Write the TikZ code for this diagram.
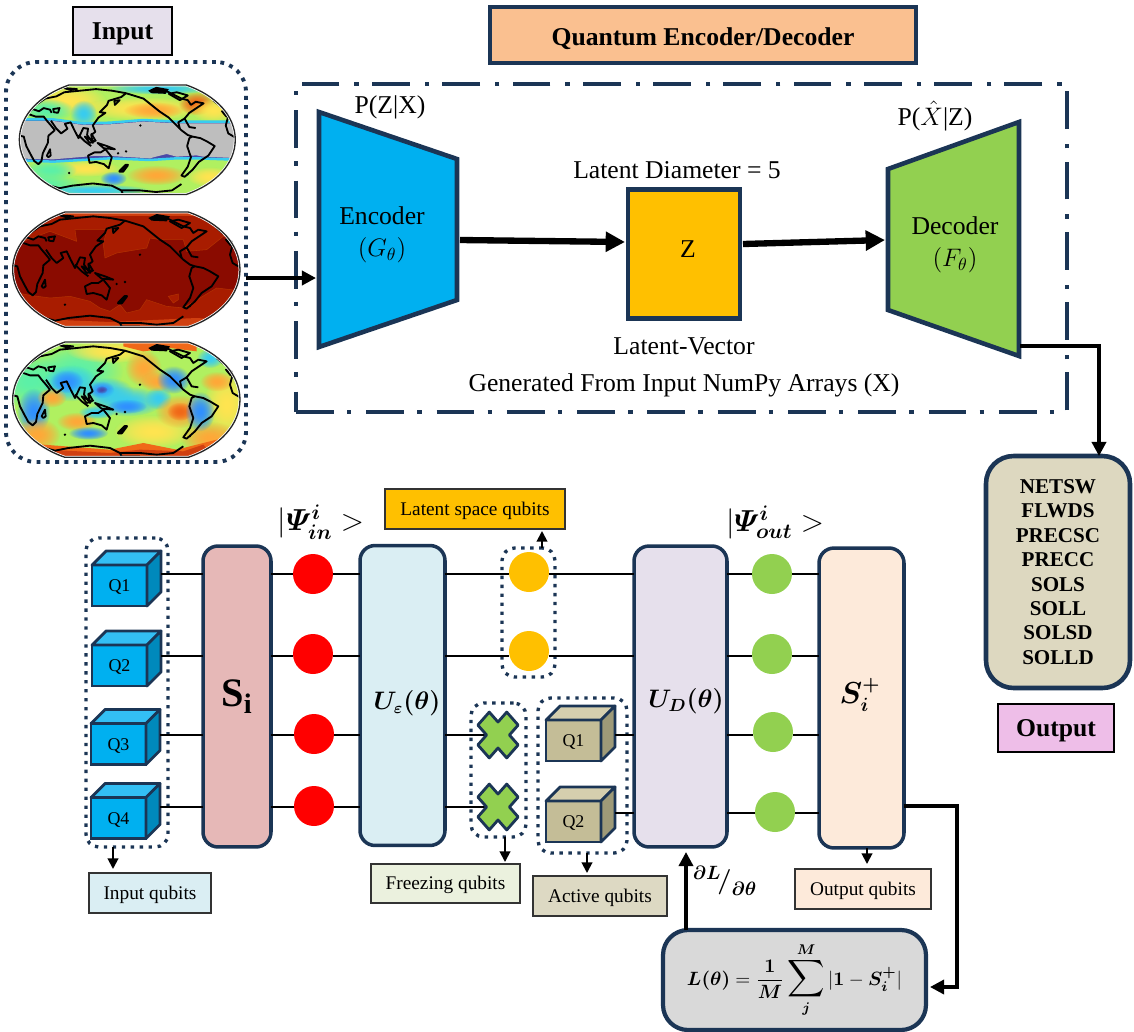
\documentclass[tikz,border=0pt]{standalone}
\usepackage{amsmath}
\usepackage{bm}
\usepackage{fontspec}
\setmainfont{Liberation Serif}
\usepackage{xcolor}
\usetikzlibrary{arrows.meta,calc,fadings}
\definecolor{mnavy}{HTML}{1B3555}
\definecolor{mcube}{HTML}{00B0F0}
\definecolor{mcubet}{HTML}{33BFF4}
\definecolor{mcubes}{HTML}{0089BC}
\definecolor{mtan}{HTML}{C4BD97}
\definecolor{mtant}{HTML}{D5CFAE}
\definecolor{mtans}{HTML}{9E9A78}
\definecolor{mgreen}{HTML}{92D050}
\definecolor{mgold}{HTML}{FFC000}
\definecolor{mlilac}{HTML}{E6E0EC}
\definecolor{cblue}{HTML}{3090FF}
\definecolor{ccyan}{HTML}{38CCF0}
\definecolor{cgreen}{HTML}{5CF0A8}
\definecolor{clime}{HTML}{B0F060}
\definecolor{cyell}{HTML}{FFE450}
\definecolor{corange}{HTML}{FFA838}
\definecolor{credor}{HTML}{F06818}
\definecolor{cred}{HTML}{D04010}
\definecolor{cindigo}{HTML}{4A48A8}
\definecolor{cdark}{HTML}{8A0B00}
\definecolor{cmid}{HTML}{A81C00}
\tikzfading[name=softblob, inner color=transparent!0, outer color=transparent!100]
\tikzstyle{big}=[font=\fontsize{14.6}{17}\selectfont]
\tikzstyle{small}=[font=\fontsize{11}{13}\selectfont]
\tikzstyle{bigbold}=[font=\fontsize{14.6}{17}\selectfont\bfseries]
\tikzstyle{tagbig}=[bigbold, rectangle, draw=black, line width=1.4pt, outer sep=0pt, text height=10pt, text depth=0pt]
\tikzstyle{tag}=[small, rectangle, draw=black!80, line width=0.6pt, outer sep=0pt, text height=7.2pt, text depth=0pt]
\tikzstyle{blk}=[rectangle, draw=mnavy, line width=2.6pt, outer sep=0pt]
\tikzstyle{gate}=[rectangle, draw=mnavy, line width=2pt, rounded corners=0.3cm, outer sep=0pt]
\tikzstyle{group}=[rectangle, draw=mnavy, line width=1.9pt, dash pattern=on 1.9pt off 3.2pt, rounded corners=0.25cm, outer sep=0pt]
\tikzstyle{wire}=[line width=1.4pt, black]
\tikzstyle{thin arrow}=[line width=1.1pt, black, -{Triangle[length=6pt,width=6pt]}]
\tikzstyle{flow}=[line width=1.9pt, black, -{Triangle[length=8pt,width=8pt]}]
\tikzstyle{fat}=[line width=3.6pt, black, -{Triangle[length=11pt,width=11pt]}]
\tikzstyle{dotnode}=[circle, minimum size=0.8cm, inner sep=0pt, outer sep=0pt]
\tikzstyle{front}=[rectangle, draw=mnavy, line width=1.6pt, minimum width=1.1cm, minimum height=0.82cm, inner sep=0pt, outer sep=0pt, font=\fontsize{10.2}{12}\selectfont, text height=7pt, text depth=0pt]
\tikzstyle{cubeline}=[draw=mnavy, line width=1.6pt, line join=round]
\tikzstyle{coast}=[black, line width=1.05pt, line join=round]
\tikzstyle{xmark}=[draw=mnavy, fill=mgreen, line width=1.6pt, line join=round]
\newcommand{\qcube}[6]{
    \node (#1) [front, fill=#3] at #2 {#6};
    \draw[cubeline, fill=#4] (#1.north west) -- ++(14,-14) -- ++(55,0) -- (#1.north east) -- cycle;
    \draw[cubeline, fill=#5] (#1.north east) -- ++(14,-14) -- ++(0,41) -- (#1.south east) -- cycle;
    \coordinate (#1s) at ([xshift=0.28cm]#1.east);
}
\newcommand{\xcross}[1]{
    \draw[xmark, shift={#1}, xscale=.95, yscale=1.08, rotate=45] (-8.5,-21.5) -- (8.5,-21.5) -- (8.5,-8.5) -- (21.5,-8.5) -- (21.5,8.5) -- (8.5,8.5) -- (8.5,21.5) -- (-8.5,21.5) -- (-8.5,8.5) -- (-21.5,8.5) -- (-21.5,-8.5) -- (-8.5,-8.5) -- cycle;
}
\newcommand{\mapoval}{(165,12) -- (535,12) .. controls (630,45) and (690,110) .. (690,185) .. controls (690,260) and (630,325) .. (535,358) -- (165,358) .. controls (70,325) and (8,260) .. (8,185) .. controls (8,110) and (70,45) .. (165,12) -- cycle}
\newcommand{\mapedge}{
    \draw[white, line width=1.6pt] \mapoval;
    \draw[black!85, line width=0.75pt] \mapoval;
}
\newcommand{\blob}[5]{
    \fill[#5, path fading=softblob, fit fading=true] (#1,#2) ellipse [x radius=#3, y radius=#4];
    \fill[#5, path fading=softblob, fit fading=true] (#1,#2) ellipse [x radius=#3, y radius=#4];
}
\newcommand{\coastlines}{
    \draw[coast] (8,172) -- (22,175) -- (30,205) -- (42,228) -- (55,252) -- (68,262) -- (78,252) -- (82,228) -- (98,195) -- (100,172) -- (120,155) -- (108,140) -- (95,125) -- (85,112) -- (60,112) -- (40,105);
    \draw[coast] (35,100) -- (50,88) -- (70,95) -- (85,85) -- (105,90) -- (110,100);
    \draw[coast] (115,88) -- (135,85) -- (130,100) -- (117,98) -- cycle;
    \draw[coast] (60,75) -- (90,55) -- (125,48) -- (150,35) -- (200,30) -- (250,25) -- (300,30) -- (345,38);
    \draw[coast] (108,125) -- (125,150) -- (140,165) -- (160,150) -- (152,135) -- (170,130) -- (182,155) -- (195,180) -- (210,148) -- (225,150) -- (222,170) -- (240,195) -- (235,170) -- (248,160) -- (240,140) -- (258,115) -- (280,100) -- (262,98) -- (285,75) -- (290,62) -- (330,50) -- (345,38);
    \draw[coast] (310,75) -- (325,60) -- (308,62) -- cycle;
    \draw[coast] (345,38) -- (400,55) -- (425,75) -- (450,95) -- (480,115) -- (505,140) -- (520,155) -- (540,170) -- (555,175) -- (580,180) -- (600,190) -- (625,205) -- (605,235) -- (575,255) -- (555,280) -- (530,302) -- (520,298) -- (540,270) -- (550,240) -- (538,205) -- (545,180) -- (555,175);
    \draw[coast] (515,150) -- (510,130) -- (530,118) -- (545,145) -- (565,148);
    \draw[coast] (530,118) -- (545,100) -- (560,90) -- (590,70) -- (565,65) -- (550,75) -- (540,60) -- (520,55) -- (490,40) -- (470,30);
    \fill[black] (415,30) -- (440,18) -- (480,25) -- (470,40) -- (425,38) -- cycle;
    \draw[coast] (480,40) -- (505,35) -- (540,45) -- (515,60) -- cycle;
    \draw[coast] (620,60) -- (650,85) -- (668,110) -- (660,140) -- (668,165) -- (690,178);
    \draw[coast] (648,95) -- (665,100) -- (662,112) -- cycle;
    \draw[coast] (105,330) -- (135,338) -- (175,330) -- (240,323) -- (300,330) -- (330,345) -- (390,345) -- (440,350) -- (490,345) -- (520,325);
    \draw[coast] (330,345) -- (335,356) -- (390,356);
    \draw[coast] (225,235) -- (245,225) -- (265,225) -- (280,215) -- (300,240) -- (290,275) -- (275,262) -- (250,255) -- (230,258) -- cycle;
    \draw[coast, line width=1.5pt] (325,285) -- (345,265) -- (350,265) -- (335,285) -- cycle;
    \draw[coast] (95,235) -- (105,215) -- (107,235) -- (100,240) -- cycle;
    \draw[coast] (195,170) -- (215,190) -- (235,205);
    \draw[coast] (215,175) -- (245,190) -- (230,195) -- cycle;
    \draw[coast] (235,165) -- (250,190);
    \draw[coast] (255,195) -- (285,205) -- (310,215) -- (275,212) -- cycle;
    \draw[coast] (150,22) -- (190,25) -- (170,28) -- cycle;
    \fill[black] (165,290) circle (4) (320,228) circle (4) (345,222) circle (4) (390,140) circle (4) (540,295) circle (3);
}
\begin{document}
\begin{tikzpicture}[x=0.02cm,y=-0.02cm]
    \useasboundingbox (0,0) rectangle (1134,1032);

    % input maps
    \node (input) [tagbig, fill=mlilac, minimum width=1.98cm, minimum height=0.96cm] at (122.5,31) {Input};
    \node (mapsgroup) [group, line width=2.2pt, dash pattern=on 2.2pt off 3.1pt, rounded corners=0.6cm, minimum width=4.8cm, minimum height=8cm] at (126,262) {};

    \begin{scope}[shift={(10,80)},scale=0.3333]
    \begin{scope}
    \path[clip, shift={(20.4,3.5)}, scale=.95] \mapoval;
    \fill[clime] (0,0) rectangle (705,366);
    \blob{170}{60}{120}{45}{cyell}
    \blob{400}{85}{190}{35}{cyell}
    \blob{430}{90}{90}{25}{corange}
    \blob{560}{70}{55}{35}{credor}
    \blob{220}{100}{40}{40}{ccyan}
    \blob{110}{90}{80}{35}{cgreen}
    \blob{610}{90}{70}{35}{cyell}
    \blob{450}{25}{160}{18}{ccyan}
    \blob{230}{265}{100}{25}{cyell}
    \blob{440}{285}{90}{30}{corange}
    \blob{310}{295}{40}{22}{cblue}
    \blob{120}{270}{80}{30}{cgreen}
    \blob{90}{310}{130}{30}{cgreen}
    \blob{250}{330}{170}{18}{ccyan}
    \blob{600}{290}{70}{30}{cyell}
    \draw[draw=ccyan, line width=1.4pt, fill=cindigo] (0,118) -- (130,118) -- (220,130) -- (300,128) -- (400,120) -- (500,125) -- (705,125) -- (705,240) -- (560,235) -- (500,235) -- (420,240) -- (300,235) -- (130,245) -- (0,240) -- cycle;
    \fill[fill={rgb,255:red,190;green,190;blue,190}] (0,123) -- (130,123) -- (220,135) -- (300,133) -- (400,125) -- (500,130) -- (705,130) -- (705,235) -- (650,233) -- (580,230) -- (560,226) -- (500,230) -- (470,222) -- (430,232) -- (420,235) -- (300,228) -- (250,228) -- (130,238) -- (0,235) -- cycle;
    \end{scope}
    \begin{scope}[shift={(20.4,3.5)},scale=.95]
    \coastlines
    \mapedge
    \end{scope}
    \end{scope}

    \begin{scope}[shift={(10,208)},scale=0.3333]
    \begin{scope}
    \path[clip] \mapoval;
    \fill[cdark] (0,0) rectangle (705,366);
    \fill[cmid, draw=orange!55!red!70!black, line width=.3pt] (0,0) -- (705,0) -- (705,85) -- (640,85) -- (590,125) -- (530,130) -- (520,95) -- (450,95) -- (420,90) -- (410,120) -- (320,135) -- (285,150) -- (280,110) -- (290,65) -- (195,65) -- (200,100) -- (120,70) -- (40,100) -- (0,120) -- cycle;
    \fill[cmid, draw=orange!55!red!70!black, line width=.3pt] (0,250) -- (60,262) -- (120,270) -- (180,265) -- (240,280) -- (270,300) -- (300,310) -- (330,290) -- (350,315) -- (390,305) -- (410,275) -- (470,295) -- (520,300) -- (620,240) -- (705,250) -- (705,366) -- (0,366) -- cycle;
    \fill[cmid, draw=orange!55!red!70!black, line width=.3pt] (475,265) -- (505,258) -- (505,275) -- (490,285) -- cycle;
    \fill[cred] (0,0) rectangle (705,24);
    \fill[cred] (130,335) -- (300,342) -- (560,330) -- (705,340) -- (705,366) -- (0,366) -- cycle;
    \end{scope}
    \coastlines
    \mapedge
    \end{scope}

    \begin{scope}[shift={(10,338)},scale=0.3333]
    \begin{scope}
    \path[clip] \mapoval;
    \fill[clime] (0,0) rectangle (705,366);
    \blob{60}{130}{120}{80}{cgreen}
    \blob{200}{100}{140}{80}{cgreen}
    \blob{300}{40}{130}{35}{cyell}
    \blob{430}{280}{120}{50}{cyell}
    \blob{650}{200}{70}{100}{cyell}
    \blob{600}{300}{90}{50}{corange}
    \blob{180}{135}{85}{55}{ccyan}
    \blob{170}{130}{50}{35}{cblue}
    \blob{70}{220}{50}{70}{cblue}
    \blob{125}{178}{45}{30}{corange}
    \blob{290}{160}{80}{42}{ccyan}
    \blob{275}{155}{38}{26}{cblue}
    \blob{275}{155}{18}{12}{cindigo}
    \blob{350}{190}{110}{45}{ccyan}
    \blob{350}{205}{60}{22}{cblue}
    \blob{445}{180}{40}{35}{ccyan}
    \blob{400}{90}{55}{55}{corange}
    \blob{440}{130}{50}{30}{corange}
    \blob{510}{220}{75}{50}{corange}
    \blob{510}{220}{40}{28}{credor}
    \blob{570}{220}{45}{60}{cblue}
    \blob{490}{125}{50}{42}{cblue}
    \blob{600}{60}{40}{30}{ccyan}
    \blob{620}{130}{50}{30}{corange}
    \blob{200}{250}{60}{28}{corange}
    \blob{235}{285}{60}{20}{cblue}
    \blob{260}{222}{55}{20}{ccyan}
    \blob{80}{290}{70}{50}{corange}
    \fill[credor] (340,0) -- (560,0) -- (560,40) -- (480,30) -- (400,40) -- (340,25) -- cycle;
    \fill[credor] (0,366) -- (0,300) -- (100,320) -- (300,335) -- (400,315) -- (500,335) -- (640,300) -- (705,280) -- (705,366) -- cycle;
    \fill[cred] (100,366) -- (110,335) -- (300,345) -- (390,335) -- (520,340) -- (580,320) -- (620,366) -- cycle;
    \end{scope}
    \coastlines
    \mapedge
    \end{scope}

    % encoder and decoder
    \node (title) [blk, bigbold, fill={rgb,255:red,250;green,192;blue,144}, minimum width=8.52cm, minimum height=1.12cm, text height=11.4pt, text depth=0pt] at (703,35) {Quantum Encoder/Decoder};
    \node (ae) [draw=mnavy, line width=2.3pt, dash pattern=on 21.5pt off 7.5pt on 2.5pt off 8.5pt, minimum width=15.42cm, minimum height=6.58cm, outer sep=0pt] at (681.5,248) {};

    \draw[blk, fill=mcube, line join=miter] (319,112) -- (457,159) -- (457,300) -- (319,347) -- cycle;
    \node (enc) [big, align=center] at (382,235) {Encoder\\[1pt]$(G_\theta)$};
    \node (pzx) [big] at (390,107) {P(Z|X)};
    \coordinate (encin) at (316,278);
    \coordinate (encout) at (460,240);

    \node (zbox) [blk, fill=mgold, minimum width=2.24cm, minimum height=2.58cm] at (684,254) {};
    \node (zlab) [big] at (688,249) {Z};
    \node (ldiam) [big] at (677,170) {Latent Diameter = 5};
    \coordinate (ztip) at (625,242);

    \draw[blk, fill=mgreen, line join=miter] (888,169) -- (1019,122) -- (1019,356) -- (888,310) -- cycle;
    \node (dec) [big, align=center] at (955,245) {Decoder\\[1pt]$(F_\theta)$};
    \node (pxz) [big] at (935,116) {P($\hat{X}$|Z)};
    \coordinate (decin) at (885,240);
    \coordinate (decout) at (1020,346);

    \node (lvec) [big, align=center] at (684,367) {Latent-Vector\\[4pt]Generated From Input NumPy Arrays (X)};

    \draw[fat, line width=2.4pt, -{Triangle[length=8pt,width=8pt]}] (mapsgroup.east |- encin) -- (encin);
    \draw[fat] (encout) -- (ztip);
    \draw[fat] (zbox.east) ++(3,-10) -- (decin);

    % output list
    \node (olist) [blk, rounded corners=0.55cm, fill={rgb,255:red,221;green,216;blue,192}, minimum width=2.88cm, minimum height=4.64cm, font=\fontsize{12}{13.9}\selectfont\bfseries, align=center] at (1058,572) {NETSW\\FLWDS\\PRECSC\\PRECC\\SOLS\\SOLL\\SOLSD\\SOLLD};
    \node (obox) [tagbig, fill={rgb,255:red,238;green,190;blue,232}, minimum width=2.32cm, minimum height=0.96cm] at (1056,728) {Output};
    \draw[flow] (decout) -| (olist.north -| 1099,0);

    % circuit wires
    \coordinate (w1) at (0,574);
    \coordinate (w2) at (0,656);
    \coordinate (w3) at (0,735);
    \coordinate (w4) at (0,807);
    \coordinate (w5) at (0,813);

    \node (qgroup) [group, minimum width=1.64cm, minimum height=6.18cm] at (127,692.5) {};
    \qcube{q1}{(119.5,585.5)}{mcube}{mcubet}{mcubes}{Q1}
    \qcube{q2}{(119.5,665.5)}{mcube}{mcubet}{mcubes}{Q2}
    \qcube{q3}{(118.5,744)}{mcube}{mcubet}{mcubes}{Q3}
    \qcube{q4}{(118.5,818)}{mcube}{mcubet}{mcubes}{Q4}

    \node (si) [gate, fill={rgb,255:red,230;green,184;blue,183}, minimum width=1.36cm, minimum height=6.02cm] at (237,696.5) {\fontsize{23}{27}\selectfont\raisebox{-1pt}{$\mathbf{S_i}$}};
    \node (ue) [gate, fill={rgb,255:red,218;green,238;blue,243}, minimum width=1.7cm, minimum height=6cm] at (402.5,695.5) {};
    \node (ulab) [font=\fontsize{13.5}{16}\selectfont] at (407,703) {$\bm{U_{\varepsilon}(\theta)}$};
    \node (ud) [gate, fill=mlilac, minimum width=1.86cm, minimum height=6.02cm] at (680.5,696.5) {};
    \node (dlab) [font=\fontsize{14}{16}\selectfont] at (686,701) {$\bm{U_{D}(\theta)}$};
    \node (sd) [gate, fill={rgb,255:red,253;green,234;blue,218}, minimum width=1.7cm, minimum height=6cm] at (861.5,698) {};
    \node (slab) [font=\fontsize{16}{19}\selectfont] at (860,695) {$\bm{S_i^{+}}$};

    \node (r1) [dotnode, fill=red] at (313,574) {};
    \node (r2) [dotnode, fill=red] at (313,654) {};
    \node (r3) [dotnode, fill=red] at (314,734) {};
    \node (r4) [dotnode, fill=red] at (314,806) {};
    \node (l1) [dotnode, fill=mgold] at (529,572) {};
    \node (l2) [dotnode, fill=mgold] at (529,651) {};
    \node (g1) [dotnode, fill=mgreen] at (772,574) {};
    \node (g2) [dotnode, fill=mgreen] at (772,654) {};
    \node (g3) [dotnode, fill=mgreen] at (773,732) {};
    \node (g4) [dotnode, fill=mgreen] at (775,812) {};

    \node (lgroup) [group, minimum width=1.06cm, minimum height=2.58cm] at (528.5,612.5) {};
    \node (xgroup) [group, minimum width=1.1cm, minimum height=2.68cm] at (498.5,770) {};
    \node (agroup) [group, minimum width=1.78cm, minimum height=3.1cm] at (582.5,775.5) {};

    \qcube{a1}{(573.5,740.5)}{mtan}{mtant}{mtans}{Q1}
    \qcube{a2}{(573.5,821.5)}{mtan}{mtant}{mtans}{Q2}

    \draw[wire] (w1 -| q1s) -- (w1 -| si.west) (w2 -| q2s) -- (w2 -| si.west) (w3 -| q3s) -- (w3 -| si.west) (w4 -| q4s) -- (w4 -| si.west);
    \draw[wire] (w1 -| si.east) -- (w1 -| r1.west) (w2 -| si.east) -- (w2 -| r2.west) (w3 -| si.east) -- (w3 -| r3.west) (w4 -| si.east) -- (w4 -| r4.west);
    \draw[wire] (w1 -| r1.east) -- (w1 -| ue.west) (w2 -| r2.east) -- (w2 -| ue.west) (w3 -| r3.east) -- (w3 -| ue.west) (w4 -| r4.east) -- (w4 -| ue.west);
    \draw[wire] (w1 -| ue.east) -- (w1 -| l1.west) (w2 -| ue.east) -- (w2 -| l2.west);
    \draw[wire] (w1 -| l1.east) -- (w1 -| ud.west) (w2 -| l2.east) -- (w2 -| ud.west);
    \draw[wire] (w3 -| a1s) -- (w3 -| ud.west) (w5 -| a2s) -- (w5 -| ud.west);
    \draw[wire] (w1 -| ud.east) -- (w1 -| g1.west) (w2 -| ud.east) -- (w2 -| g2.west) (w3 -| ud.east) -- (w3 -| g3.west) (w5 -| ud.east) -- (w5 -| g4.west);
    \draw[wire] (w1 -| g1.east) -- (w1 -| sd.west) (w2 -| g2.east) -- (w2 -| sd.west) (w3 -| g3.east) -- (w3 -| sd.west) (w5 -| g4.east) -- (w5 -| sd.west);
    \coordinate (x1) at (498,735);
    \coordinate (x2) at (498,807);
    \draw[wire] (w3 -| ue.east) -- (x1);
    \draw[wire] (w4 -| ue.east) -- (x2);
    \xcross{(x1)}
    \xcross{(x2)}

    \node (psiin) [font=\fontsize{17}{20}\selectfont] at (321,522) {$|\bm{\varPsi_{in}^{i}}>$};
    \node (psiout) [font=\fontsize{17}{20}\selectfont] at (775,522) {$|\bm{\varPsi_{out}^{i}}>$};

    % qubit tags
    \node (itag) [tag, fill={rgb,255:red,218;green,238;blue,243}, minimum width=2.44cm, minimum height=0.8cm] at (150,893) {Input qubits};
    \node (ltag) [tag, fill=mgold, minimum width=3.6cm, minimum height=0.8cm] at (475,509) {Latent space qubits};
    \node (ftag) [tag, fill={rgb,255:red,235;green,241;blue,222}, minimum width=2.98cm, minimum height=0.78cm] at (445.5,883.5) {Freezing qubits};
    \node (atag) [tag, fill={rgb,255:red,221;green,217;blue,195}, minimum width=2.68cm, minimum height=0.8cm] at (600,896) {Active qubits};
    \node (otag) [tag, fill={rgb,255:red,253;green,234;blue,218}, minimum width=2.72cm, minimum height=0.8cm] at (863,889) {Output qubits};

    \coordinate (t1) at (113,869);
    \coordinate (t2) at (542,531);
    \coordinate (t3) at (505,862);
    \coordinate (t4) at (587,873);
    \coordinate (t5) at (867,864);
    \draw[thin arrow] (qgroup.south -| t1) -- (t1);
    \draw[thin arrow] (lgroup.north -| t2) -- (t2);
    \draw[thin arrow] (xgroup.south -| t3) -- (t3);
    \draw[thin arrow] (agroup.south -| t4) -- (t4);
    \draw[thin arrow] (sd.south -| t5) -- (t5);

    % loss
    \node (loss) [gate, line width=2.4pt, rounded corners=0.5cm, fill={rgb,255:red,217;green,217;blue,217}, minimum width=5.26cm, minimum height=2cm, font=\fontsize{11}{13}\selectfont] at (794.5,980) {$\bm{L(\theta)}=\dfrac{\bm{1}}{\bm{M}}\mathop{\scalebox{1.35}{$\displaystyle\sum$}}\limits_{\bm{j}}^{\bm{M}}|\bm{1}-\bm{S_i^{+}}|$};
    \coordinate (gradtip) at (686,852);
    \coordinate (lossin) at (930,987);
    \draw[flow] (loss.north -| gradtip) -- (gradtip);
    \draw[flow] (sd.east |- 0,806) -- (957,806) |- (lossin);
    \node (grad) [font=\fontsize{15}{18}\selectfont] at (725,881) {$\bm{{}^{\partial L}\!/_{\partial\theta}}$};
\end{tikzpicture}
\end{document}
